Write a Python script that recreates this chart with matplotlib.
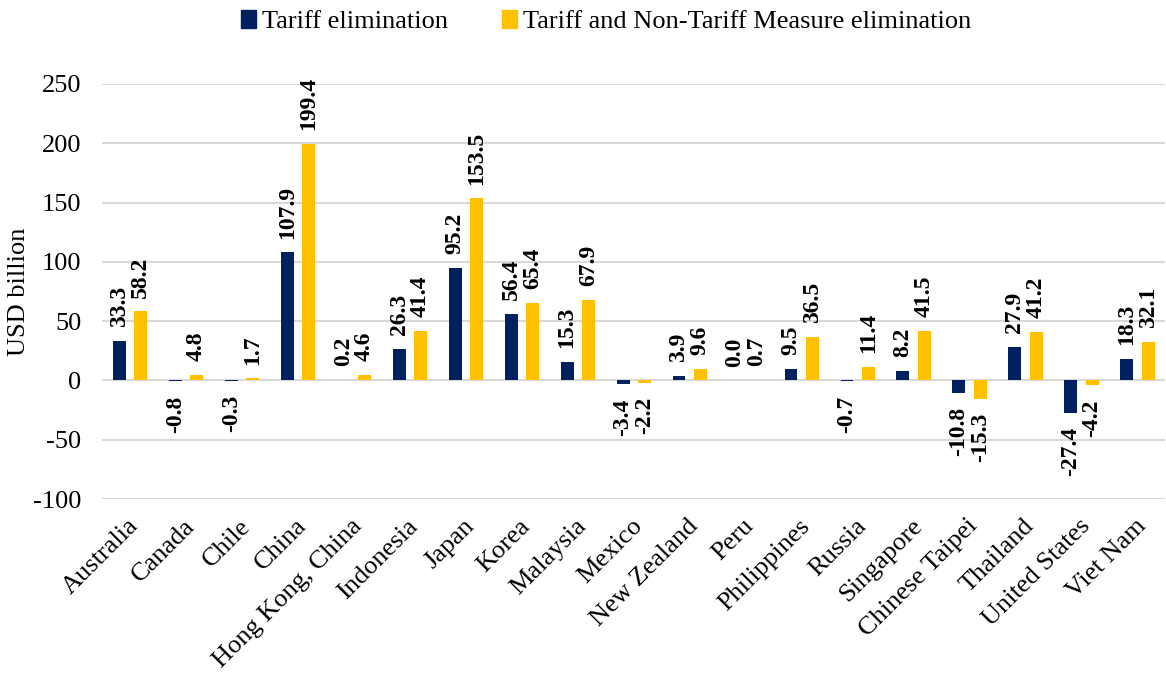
import numpy as np
import matplotlib.pyplot as plt
from matplotlib.patches import Patch
import matplotlib.transforms as mtransforms

plt.rcParams['font.family'] = ['Liberation Serif', 'DejaVu Serif']
plt.rcParams['axes.unicode_minus'] = False

economies = ['Australia', 'Canada', 'Chile', 'China', 'Hong Kong, China', 'Indonesia',
             'Japan', 'Korea', 'Malaysia', 'Mexico', 'New Zealand', 'Peru', 'Philippines',
             'Russia', 'Singapore', 'Chinese Taipei', 'Thailand', 'United States', 'Viet Nam']
tariff = [33.3, -0.8, -0.3, 107.9, 0.2, 26.3, 95.2, 56.4, 15.3, -3.4, 3.9, 0.0, 9.5,
          -0.7, 8.2, -10.8, 27.9, -27.4, 18.3]
tariff_ntm = [58.2, 4.8, 1.7, 199.4, 4.6, 41.4, 153.5, 65.4, 67.9, -2.2, 9.6, 0.7, 36.5,
              11.4, 41.5, -15.3, 41.2, -4.2, 32.1]

navy = '#002060'
gold = '#FFC000'

fig = plt.figure(figsize=(11.66, 6.75), dpi=100)
ax = fig.add_axes([0.0875, 0.2607, 0.912, 0.6149])

x = np.arange(len(economies))
w = 0.23
off = 0.19
ax.bar(x - off, tariff, w, color=navy, zorder=3)
ax.bar(x + off, tariff_ntm, w, color=gold, zorder=3)

ax.set_xlim(-0.5, len(economies) - 0.5)
ax.set_ylim(-100, 250)
ax.set_yticks(range(-100, 251, 50))
ax.yaxis.grid(True, color='#d9d9d9', linewidth=1.5, zorder=0)
ax.set_axisbelow(True)
for s in ax.spines.values():
    s.set_visible(False)
ax.tick_params(axis='both', length=0, labelsize=19)
ax.tick_params(axis='y', pad=15)
ax.set_ylabel('USD billion', fontsize=19, labelpad=2)

ax.set_xticks(x)
ax.set_xticklabels(economies, rotation=45, ha='right', va='top', rotation_mode='anchor', fontsize=19)
shift = mtransforms.ScaledTranslation(-2 / 72, -8 / 72, fig.dpi_scale_trans)
for lab in ax.get_xticklabels():
    lab.set_transform(lab.get_transform() + shift)

for xs, vals in ((x - off, tariff), (x + off, tariff_ntm)):
    for xi, v in zip(xs, vals):
        if v >= 0:
            ax.annotate(f'{v:.1f}', (xi, v), xytext=(0, 10), textcoords='offset points',
                        rotation=90, ha='center', va='bottom', fontsize=17,
                        fontweight='bold', annotation_clip=False)
        else:
            ax.annotate(f'{v:.1f}', (xi, v), xytext=(0, -10), textcoords='offset points',
                        rotation=90, ha='center', va='top', fontsize=17,
                        fontweight='bold', annotation_clip=False)

handles = [Patch(color=navy), Patch(color=gold)]
fig.legend(handles, ['Tariff elimination', 'Tariff and Non-Tariff Measure elimination'],
           loc='center', bbox_to_anchor=(0.52, 0.968), ncol=2, frameon=False,
           fontsize=19, handlelength=0.57, handleheight=0.65, handletextpad=0.23,
           columnspacing=2.05)

fig.savefig('out.png', dpi=100)
